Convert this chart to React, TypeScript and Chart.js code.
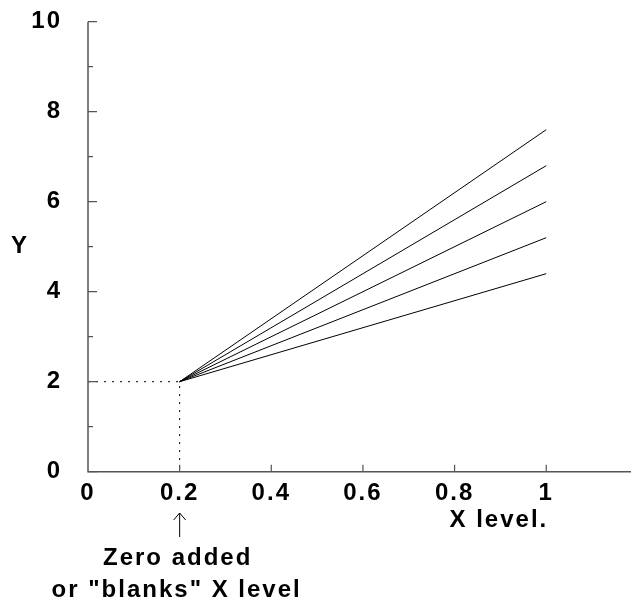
import React, { useEffect, useRef } from "react";
import { Chart, registerables } from "chart.js";

Chart.register(...registerables);

// ---- data ----
const ORIGIN_X = 0.2;
const ORIGIN_Y = 2;
const END_X = 1;
const endValues = [7.6, 6.8, 6.0, 5.2, 4.4];
const xTickValues = [0, 0.2, 0.4, 0.6, 0.8, 1];
const xTickLabels = ["0", "0.2", "0.4", "0.6", "0.8", "1"];
const yTickValues = [0, 2, 4, 6, 8, 10];
const yMinorTicks = [1, 3, 5, 7, 9];
const X_MIN = 0;
const X_MAX = 1.185;
const Y_MIN = 0;
const Y_MAX = 10;
const xTitle = "X level.";
const yTitle = "Y";
const noteLines = ["Zero added", 'or "blanks" X level'];

const FONT = "'Liberation Sans', Arial, sans-serif";
const FONT_SIZE = 24;
const LS = "2px";
const AXIS_COLOR = "#555";

const decorPlugin = {
  id: "decor",
  beforeDraw(chart: any) {
    try {
      chart.ctx.letterSpacing = LS;
    } catch (e) {}
  },
  afterDraw(chart: any) {
    const ctx = chart.ctx as CanvasRenderingContext2D;
    const xs = chart.scales.x;
    const ys = chart.scales.y;
    const x0 = xs.getPixelForValue(X_MIN);
    const y0 = ys.getPixelForValue(Y_MIN);
    const yTop = ys.getPixelForValue(Y_MAX);
    ctx.save();
    // axes
    ctx.strokeStyle = AXIS_COLOR;
    ctx.lineWidth = 1.5;
    ctx.beginPath();
    ctx.moveTo(x0, yTop);
    ctx.lineTo(x0, y0);
    ctx.lineTo(chart.width, y0);
    ctx.stroke();
    // ticks (inward)
    ctx.lineWidth = 1.2;
    ctx.beginPath();
    yTickValues.forEach((v) => {
      const p = ys.getPixelForValue(v);
      ctx.moveTo(x0, p);
      ctx.lineTo(x0 + 9, p);
    });
    yMinorTicks.forEach((v) => {
      const p = ys.getPixelForValue(v);
      ctx.moveTo(x0, p);
      ctx.lineTo(x0 + 5, p);
    });
    xTickValues.forEach((v) => {
      if (v === X_MIN) return;
      const p = xs.getPixelForValue(v);
      ctx.moveTo(p, y0);
      ctx.lineTo(p, y0 - 7);
    });
    ctx.stroke();

    // texts
    ctx.fillStyle = "#000";
    ctx.letterSpacing = LS;
    ctx.font = `bold ${FONT_SIZE}px ${FONT}`;
    ctx.textAlign = "right";
    ctx.textBaseline = "alphabetic";
    ctx.fillText(xTitle, xs.getPixelForValue(END_X) + 2, 527);
    ctx.textAlign = "center";
    ctx.textBaseline = "middle";
    ctx.fillText(yTitle, 20, ys.getPixelForValue(5));
    const nx = xs.getPixelForValue(ORIGIN_X);
    ctx.textBaseline = "alphabetic";
    ctx.fillText(noteLines[0], nx - 2, 565);
    ctx.fillText(noteLines[1], nx - 3, 597);
    // arrow
    ctx.letterSpacing = "0px";
    ctx.strokeStyle = "#000";
    ctx.lineWidth = 1;
    ctx.beginPath();
    ctx.moveTo(nx, 537);
    ctx.lineTo(nx, 513);
    ctx.moveTo(nx - 6, 520);
    ctx.lineTo(nx, 513);
    ctx.lineTo(nx + 6, 520);
    ctx.stroke();
    ctx.restore();
  },
};

export default function App() {
  const ref = useRef<HTMLCanvasElement | null>(null);
  useEffect(() => {
    if (!ref.current) return;
    const lineSets = endValues.map((v, i) => ({
      label: `line${i + 1}`,
      data: [
        { x: ORIGIN_X, y: ORIGIN_Y },
        { x: END_X, y: v },
      ],
      borderColor: "#000",
      borderWidth: 1,
      pointRadius: 0,
      fill: false,
    }));
    const dotted = {
      label: "guide",
      data: [
        { x: X_MIN, y: ORIGIN_Y },
        { x: ORIGIN_X, y: ORIGIN_Y },
        { x: ORIGIN_X, y: Y_MIN },
      ],
      borderColor: "#000",
      borderWidth: 1,
      borderDash: [2, 6],
      pointRadius: 0,
      fill: false,
    };
    const tickFont = { family: FONT, size: FONT_SIZE, weight: "bold" };
    const chart = new Chart(ref.current, {
      type: "line",
      data: { datasets: [...lineSets, dotted] as any },
      options: {
        animation: false,
        responsive: false,
        events: [],
        layout: { padding: { top: 21.7, left: 0, right: 0, bottom: 0 } },
        plugins: { legend: { display: false }, tooltip: { enabled: false } },
        elements: { line: { tension: 0 } },
        scales: {
          x: {
            type: "linear",
            min: X_MIN,
            max: X_MAX,
            grid: { display: false, drawTicks: false },
            border: { display: false },
            afterBuildTicks: (s: any) => {
              s.ticks = xTickValues.map((v) => ({ value: v }));
            },
            afterFit: (s: any) => {
              s.height = 601 - 471.7;
              s.paddingLeft = 0;
              s.paddingRight = 0;
            },
            ticks: {
              padding: 7,
              color: "#000",
              maxRotation: 0,
              autoSkip: false,
              font: tickFont,
              callback: (v: any) => {
                const i = xTickValues.indexOf(Number(v));
                return i >= 0 ? xTickLabels[i] : "";
              },
            },
          },
          y: {
            type: "linear",
            min: Y_MIN,
            max: Y_MAX,
            grid: { display: false, drawTicks: false },
            border: { display: false },
            afterBuildTicks: (s: any) => {
              s.ticks = yTickValues.map((v) => ({ value: v }));
            },
            afterFit: (s: any) => {
              s.width = 88;
              s.paddingTop = 0;
              s.paddingBottom = 0;
            },
            ticks: {
              padding: 26,
              color: "#000",
              autoSkip: false,
              font: tickFont,
              callback: (v: any) => String(v),
            },
          },
        },
      } as any,
      plugins: [decorPlugin],
    });
    return () => chart.destroy();
  }, []);
  return (
    <canvas
      ref={ref}
      width={631}
      height={601}
      style={{ position: "absolute", left: 0, top: 0, display: "block" }}
    />
  );
}
